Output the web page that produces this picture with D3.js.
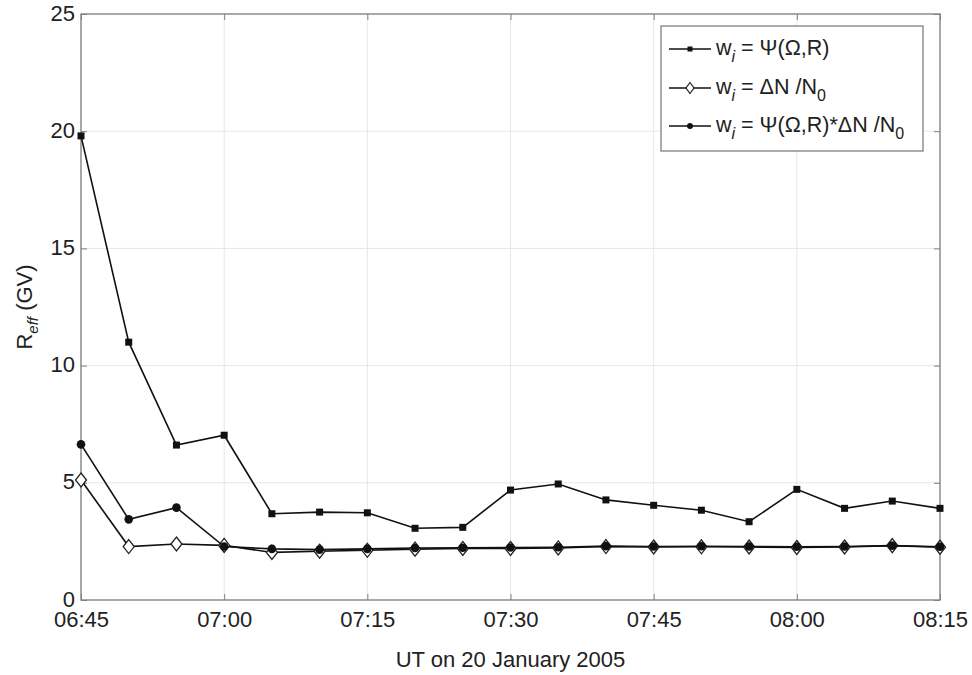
<!DOCTYPE html>
<html>
<head>
<meta charset="utf-8">
<script src="https://cdn.jsdelivr.net/npm/d3@7"></script>
<style>
  body { margin: 0; background: #fff; }
  text { font-family: "Liberation Sans", Arial, sans-serif; fill: #222; }
</style>
</head>
<body>
<script>
const width = 972;
const height = 675;

// data, one point every 5 minutes
const times = ["06:45","06:50","06:55","07:00","07:05","07:10","07:15","07:20","07:25","07:30",
               "07:35","07:40","07:45","07:50","07:55","08:00","08:05","08:10","08:15"];
const psiValues = [19.8, 11.0, 6.61, 7.03, 3.68, 3.75, 3.72, 3.06, 3.10, 4.69,
                   4.95, 4.27, 4.04, 3.83, 3.34, 4.72, 3.91, 4.22, 3.91];
const dnValues = [5.12, 2.28, 2.39, 2.33, 2.03, 2.08, 2.12, 2.17, 2.20, 2.20,
                  2.22, 2.28, 2.26, 2.27, 2.26, 2.24, 2.26, 2.32, 2.25];
const bothValues = [6.64, 3.44, 3.94, 2.28, 2.18, 2.15, 2.18, 2.22, 2.23, 2.24,
                    2.25, 2.30, 2.28, 2.29, 2.28, 2.27, 2.28, 2.32, 2.27];
const yTicks = [0, 5, 10, 15, 20, 25];

const parse = d3.timeParse("%H:%M");
const dates = times.map(parse);

const margin = {left: 81, right: 32, top: 14, bottom: 75};
const x = d3.scaleTime()
  .domain([parse("06:45"), parse("08:15")])
  .range([margin.left, width - margin.right]);
const y = d3.scaleLinear()
  .domain([0, 25])
  .range([height - margin.bottom, margin.top]);

const svg = d3.select("body").append("svg")
  .attr("width", width)
  .attr("height", height);

const xTicks = x.ticks(d3.timeMinute.every(15));

// grid
svg.append("g").selectAll("line").data(xTicks).join("line")
  .attr("x1", d => x(d)).attr("x2", d => x(d))
  .attr("y1", y(0)).attr("y2", y(25))
  .attr("stroke", "#e6e6e6").attr("stroke-width", 1);
svg.append("g").selectAll("line").data(yTicks).join("line")
  .attr("x1", x.range()[0]).attr("x2", x.range()[1])
  .attr("y1", d => y(d)).attr("y2", d => y(d))
  .attr("stroke", "#e6e6e6").attr("stroke-width", 1);

// axes, ticks pointing inwards like matlab
const axisColor = "#808080";
const styleAxis = g => {
  g.select(".domain").remove();
  g.selectAll(".tick line").attr("stroke", axisColor);
  g.selectAll(".tick text").style("font-size", "22px").attr("fill", "#222");
};

svg.append("g")
  .attr("transform", "translate(0," + y(0) + ")")
  .call(d3.axisBottom(x).tickValues(xTicks).tickFormat(d3.timeFormat("%H:%M"))
    .tickSizeInner(-6).tickPadding(11))
  .call(styleAxis);
svg.append("g")
  .attr("transform", "translate(0," + y(25) + ")")
  .call(d3.axisTop(x).tickValues(xTicks).tickFormat("").tickSizeInner(-6))
  .call(styleAxis);
svg.append("g")
  .attr("transform", "translate(" + x.range()[0] + ",0)")
  .call(d3.axisLeft(y).tickValues(yTicks).tickSizeInner(-6).tickPadding(6))
  .call(styleAxis)
  .call(g => g.selectAll(".tick text").attr("dy", "0.28em"));
svg.append("g")
  .attr("transform", "translate(" + x.range()[1] + ",0)")
  .call(d3.axisRight(y).tickValues(yTicks).tickFormat("").tickSizeInner(-6))
  .call(styleAxis);

svg.append("rect")
  .attr("x", x.range()[0]).attr("y", y(25))
  .attr("width", x.range()[1] - x.range()[0])
  .attr("height", y(0) - y(25))
  .attr("fill", "none").attr("stroke", axisColor).attr("stroke-width", 1.3);

// series
const line = d3.line().x((d, i) => x(dates[i])).y(d => y(d));
const drawLine = vals => svg.append("path").datum(vals)
  .attr("d", line).attr("fill", "none")
  .attr("stroke", "#111").attr("stroke-width", 1.6);

drawLine(psiValues);
svg.append("g").selectAll("rect").data(psiValues).join("rect")
  .attr("x", (d, i) => x(dates[i]) - 3.5).attr("y", d => y(d) - 3.5)
  .attr("width", 7).attr("height", 7).attr("fill", "#111");

drawLine(dnValues);
const diamond = (cx, cy, w, h) =>
  "M" + cx + "," + (cy - h) + "L" + (cx + w) + "," + cy + "L" + cx + "," + (cy + h) + "L" + (cx - w) + "," + cy + "Z";
svg.append("g").selectAll("path").data(dnValues).join("path")
  .attr("d", (d, i) => diamond(x(dates[i]), y(d), 5.5, 7))
  .attr("fill", "#fff").attr("stroke", "#222").attr("stroke-width", 1.3);

drawLine(bothValues);
svg.append("g").selectAll("circle").data(bothValues).join("circle")
  .attr("cx", (d, i) => x(dates[i])).attr("cy", d => y(d))
  .attr("r", 4.3).attr("fill", "#111");

// axis labels
svg.append("text")
  .attr("x", (x.range()[0] + x.range()[1]) / 2).attr("y", 667)
  .attr("text-anchor", "middle").style("font-size", "22px")
  .text("UT on 20 January 2005");

const ylab = svg.append("text")
  .attr("transform", "translate(32," + ((y(0) + y(25)) / 2) + ") rotate(-90)")
  .attr("text-anchor", "middle").style("font-size", "22px");
ylab.append("tspan").text("R");
ylab.append("tspan").attr("dy", 6).style("font-size", "15px").style("font-style", "italic").text("eff");
ylab.append("tspan").attr("dy", -6).text(" (GV)");

// legend
const lg = svg.append("g");
lg.append("rect")
  .attr("x", 661).attr("y", 26).attr("width", 262).attr("height", 125)
  .attr("fill", "#fff").attr("stroke", axisColor).attr("stroke-width", 1.3);

const legendRows = [55, 94, 132];
const addLabel = (row, parts) => {
  const t = lg.append("text").attr("x", 716).attr("y", legendRows[row]).style("font-size", "21.5px");
  parts.forEach(p => {
    const s = t.append("tspan").text(p[0]);
    if (p[1] === "sub") s.attr("dy", 7).style("font-size", "16px");
    if (p[1] === "isub") s.attr("dy", 7).style("font-size", "16px").style("font-style", "italic");
    if (p[1] === "up") s.attr("dy", -7);
  });
};
legendRows.forEach(yy => {
  lg.append("line").attr("x1", 669).attr("x2", 711)
    .attr("y1", yy - 6).attr("y2", yy - 6)
    .attr("stroke", "#111").attr("stroke-width", 1.6);
});
lg.append("rect").attr("x", 687.5).attr("y", legendRows[0] - 8.5).attr("width", 5).attr("height", 5).attr("fill", "#111");
lg.append("path").attr("d", diamond(690, legendRows[1] - 6, 4, 5.5))
  .attr("fill", "#fff").attr("stroke", "#222").attr("stroke-width", 1.2);
lg.append("circle").attr("cx", 690).attr("cy", legendRows[2] - 6).attr("r", 3).attr("fill", "#111");

addLabel(0, [["w"], ["i", "isub"], [" = Ψ(Ω,R)", "up"]]);
addLabel(1, [["w"], ["i", "isub"], [" = ΔN /N", "up"], ["0", "sub"]]);
addLabel(2, [["w"], ["i", "isub"], [" = Ψ(Ω,R)*ΔN /N", "up"], ["0", "sub"]]);
</script>
</body>
</html>
